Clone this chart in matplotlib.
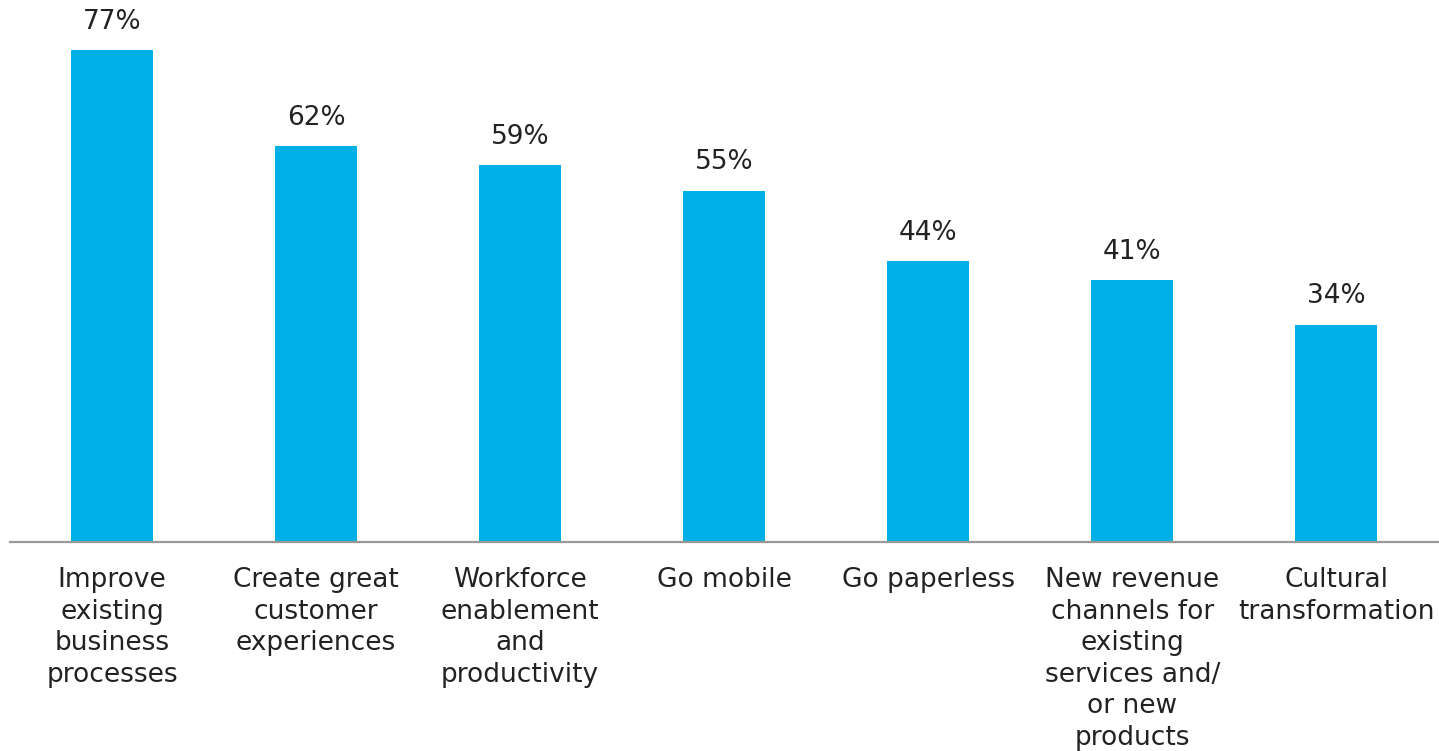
import matplotlib
matplotlib.use("Agg")
import matplotlib.pyplot as plt

# data
categories = [
    "Improve\nexisting\nbusiness\nprocesses",
    "Create great\ncustomer\nexperiences",
    "Workforce\nenablement\nand\nproductivity",
    "Go mobile",
    "Go paperless",
    "New revenue\nchannels for\nexisting\nservices and/\nor new\nproducts",
    "Cultural\ntransformation",
]
values = [77, 62, 59, 55, 44, 41, 34]

BAR = "#00B0E6"
TXT = "#222222"

fig = plt.figure(figsize=(14.39, 7.51), dpi=100)
ax = fig.add_axes([0.007, 0.2783, 0.9925, 0.6806])

x = range(len(values))
bars = ax.bar(x, values, width=0.4, color=BAR, zorder=2)

for b, v in zip(bars, values):
    ax.annotate(f"{v}%", (b.get_x() + b.get_width() / 2, v),
                xytext=(0, 11), textcoords="offset points",
                ha="center", va="bottom", fontsize=19, color=TXT)

ax.set_xlim(-0.5, 6.5)
ax.set_ylim(0, 80)
ax.set_xticks(list(x))
ax.set_xticklabels(categories, fontsize=19, color=TXT, linespacing=1.28)
ax.tick_params(axis="x", length=0, pad=18)
ax.set_yticks([])

for s in ["top", "right", "left"]:
    ax.spines[s].set_visible(False)
ax.spines["bottom"].set_color("#999999")
ax.spines["bottom"].set_linewidth(1.6)

fig.savefig("out.png", dpi=100, facecolor="white")
